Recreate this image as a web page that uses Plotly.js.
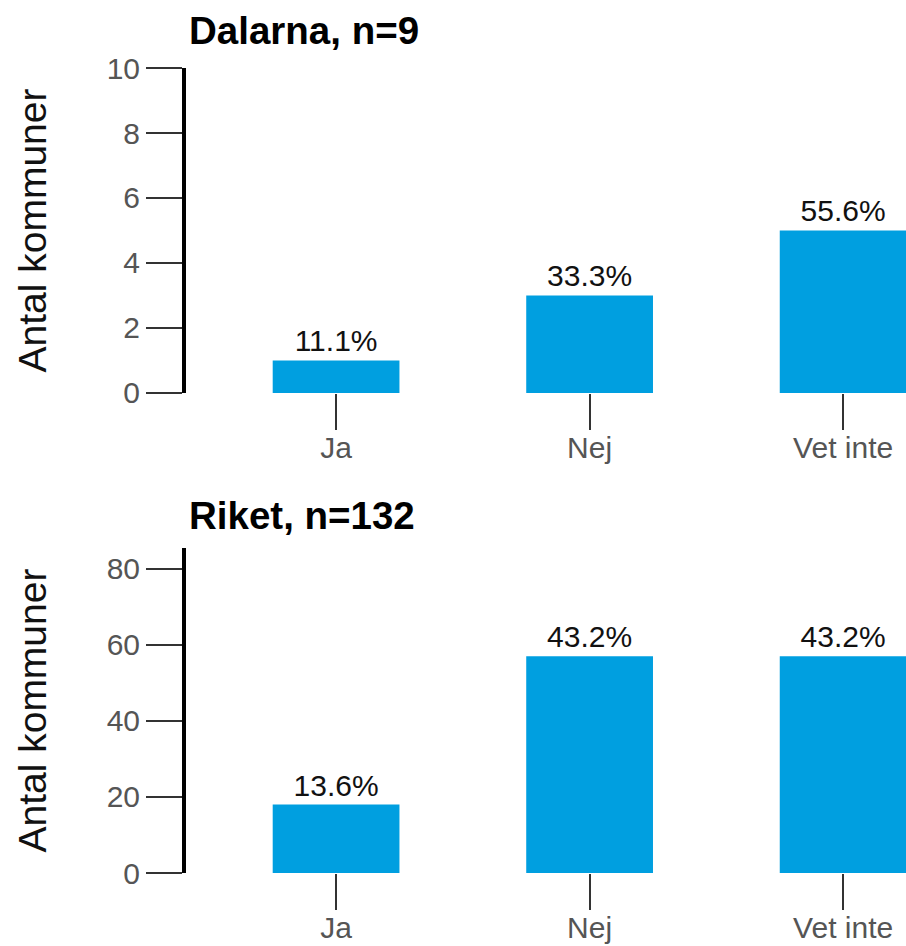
<!DOCTYPE html>
<html>
<head>
<meta charset="utf-8">
<script src="https://cdn.plot.ly/plotly-3.0.1.min.js"></script>
<style>html,body{margin:0;padding:0;background:#fff;}#chart{width:906px;height:946px;}</style>
</head>
<body>
<div id="chart"></div>
<script>
const categories = ["Ja", "Nej", "Vet inte"];
const dalarnaCounts = [1, 3, 5];
const riketCounts = [18, 57, 57];
const dalarnaN = 9;
const riketN = 132;
const dalarnaTitle = "Dalarna, n=9";
const riketTitle = "Riket, n=132";
const yTitle = "Antal kommuner";
const dalarnaTicks = [0, 2, 4, 6, 8, 10];
const riketTicks = [0, 20, 40, 60, 80];

const FONT = "Liberation Sans, Arial, sans-serif";
const BAR = "rgb(0,159,224)";
const pct = (arr, n) => arr.map(v => (v / n * 100).toFixed(1) + "%");

const common = {
  type: "bar", marker: {color: BAR, line: {width: 0}}, width: 0.5,
  textposition: "outside", cliponaxis: false,
  textfont: {family: FONT, size: 30, color: "#111"}, hoverinfo: "skip", showlegend: false
};
const traces = [
  Object.assign({}, common, {x: categories, y: dalarnaCounts, text: pct(dalarnaCounts, dalarnaN), xaxis: "x", yaxis: "y"}),
  Object.assign({}, common, {x: categories, y: riketCounts, text: pct(riketCounts, riketN), xaxis: "x2", yaxis: "y2"})
];

const xax = {
  range: [-0.592, 2.248], showline: false, showgrid: false, zeroline: false,
  ticks: "outside", ticklen: 36, tickwidth: 2, tickcolor: "#333", ticklabelstandoff: -8,
  tickfont: {family: FONT, size: 30, color: "#555"}, fixedrange: true
};
const yax = {
  showline: true, linewidth: 4, linecolor: "#000", showgrid: false, zeroline: false,
  ticks: "outside", ticklen: 36, tickwidth: 2, tickcolor: "#333",
  tickfont: {family: FONT, size: 30, color: "#555"}, fixedrange: true
};

const layout = {
  width: 906, height: 946,
  margin: {l: 186, r: 0, t: 68, b: 73},
  paper_bgcolor: "#fff", plot_bgcolor: "#fff",
  bargap: 0.5,
  xaxis: Object.assign({}, xax, {anchor: "y"}),
  yaxis: Object.assign({}, yax, {domain: [0.5963, 1], range: [0, 10], tickvals: dalarnaTicks, anchor: "x"}),
  xaxis2: Object.assign({}, xax, {anchor: "y2"}),
  yaxis2: Object.assign({}, yax, {domain: [0, 0.4037], range: [0, 85.5], tickvals: riketTicks, anchor: "x2"}),
  annotations: [
    {text: "<b>" + dalarnaTitle + "</b>", xref: "paper", yref: "paper", x: 0.001, y: 1.0466, xanchor: "left", yanchor: "middle", showarrow: false, font: {family: FONT, size: 38.5, color: "#000"}},
    {text: "<b>" + riketTitle + "</b>", xref: "paper", yref: "paper", x: 0.001, y: 0.4441, xanchor: "left", yanchor: "middle", showarrow: false, font: {family: FONT, size: 38.5, color: "#000"}},
    {text: yTitle, xref: "paper", yref: "paper", x: -0.2138, y: 0.7982, xanchor: "center", yanchor: "middle", textangle: -90, showarrow: false, font: {family: FONT, size: 39, color: "#111"}},
    {text: yTitle, xref: "paper", yref: "paper", x: -0.2138, y: 0.2019, xanchor: "center", yanchor: "middle", textangle: -90, showarrow: false, font: {family: FONT, size: 39, color: "#111"}}
  ]
};

Plotly.newPlot("chart", traces, layout, {staticPlot: true, displayModeBar: false});
</script>
</body>
</html>
